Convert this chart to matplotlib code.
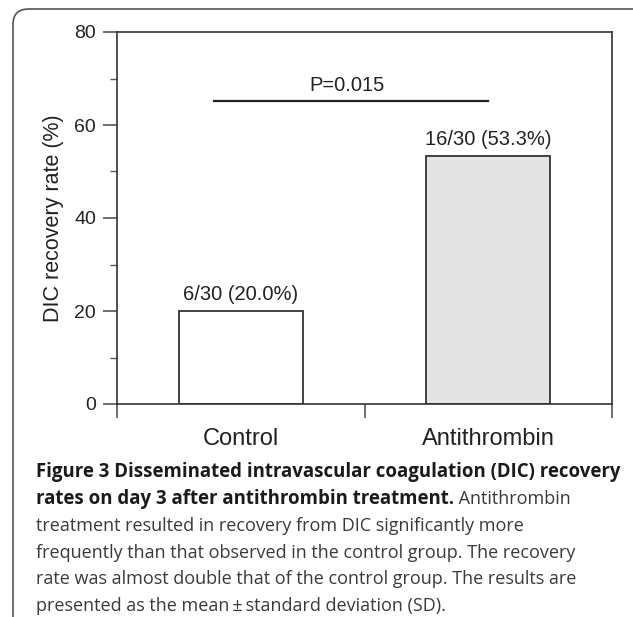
import matplotlib
matplotlib.use("Agg")
import matplotlib.pyplot as plt
from matplotlib.patches import FancyBboxPatch
from matplotlib.ticker import MultipleLocator, FixedLocator

# datos del grafico
grupos = ["Control", "Antithrombin"]
tasas = [20.0, 53.3]
etiquetas = ["6/30 (20.0%)", "16/30 (53.3%)"]
colores = ["white", "#e4e4e4"]
p_texto = "P=0.015"
p_altura = 65.2

caption_bold = ["Figure 3 Disseminated intravascular coagulation (DIC) recovery",
                "rates on day 3 after antithrombin treatment."]
caption_resto = " Antithrombin"
caption_lineas = ["treatment resulted in recovery from DIC significantly more",
                  "frequently than that observed in the control group. The recovery",
                  "rate was almost double that of the control group. The results are",
                  "presented as the mean\u2009\u00b1\u2009standard deviation (SD)."]

W, H = 633, 617
fig = plt.figure(figsize=(W / 100, H / 100), dpi=100)
plt.rcParams['font.family'] = ['Liberation Sans', 'DejaVu Sans']

# marco redondeado alrededor de la figura
marco = FancyBboxPatch((13 / W, -20 / H), 640 / W, (H - 9 + 20) / H,
                       boxstyle="round,pad=0,rounding_size=0.025",
                       transform=fig.transFigure, fill=False,
                       edgecolor="#555555", linewidth=1.2, clip_on=False)
fig.patches.append(marco)

ax = fig.add_axes([117 / W, 1 - 404 / H, 495 / W, 372 / H])
x = [0.5, 1.5]
ax.bar(x, tasas, width=0.5, color=colores, edgecolor="#333333", linewidth=1.3)

for xi, v, t in zip(x, tasas, etiquetas):
    ax.annotate(t, (xi, v), xytext=(0, 5), textcoords="offset points",
                ha="center", va="bottom", fontsize=14.5, color="#222222")

# linea de significancia
ax.plot([0.39, 1.5], [p_altura, p_altura], color="#222222", linewidth=1.6)
ax.text(0.93, p_altura + 1.3, p_texto, ha="center", va="bottom",
        fontsize=14.5, color="#222222")

ax.set_xlim(0, 2)
ax.set_ylim(0, 80)
ax.xaxis.set_major_locator(FixedLocator([0, 1, 2]))
ax.set_xticklabels([])
ax.xaxis.set_minor_locator(FixedLocator(x))
ax.set_xticklabels(grupos, minor=True, fontsize=17, color="#222222")
ax.tick_params(axis="x", which="minor", length=0, pad=17)
ax.tick_params(axis="x", which="major", length=10, width=1.2, color="#555555")

ax.yaxis.set_major_locator(MultipleLocator(20))
ax.yaxis.set_minor_locator(MultipleLocator(10))
ax.tick_params(axis="y", which="major", length=10, width=1.2, color="#555555",
               labelsize=14, labelcolor="#222222", pad=5)
ax.tick_params(axis="y", which="minor", length=5, width=1.0, color="#555555")

for s in ax.spines.values():
    s.set_color("#333333")
    s.set_linewidth(1.2)

ax.set_ylabel("DIC recovery rate (%)", fontsize=15.5, color="#222222")
ax.yaxis.set_label_coords(-0.107, 0.5)

# leyenda de la figura (texto)
fam = ["Open Sans", "DejaVu Sans"]
x0 = 36 / W
ys = [472, 499, 526, 553, 579, 606]
fig.text(x0, 1 - ys[0] / H, caption_bold[0], fontsize=13.4, weight="bold",
         family=fam, color="#1a1a1a", va="center")
t2 = fig.text(x0, 1 - ys[1] / H, caption_bold[1], fontsize=13.4, weight="bold",
              family=fam, color="#1a1a1a", va="center")
fig.canvas.draw()
bb = t2.get_window_extent()
fig.text(bb.x1 / W, 1 - ys[1] / H, caption_resto, fontsize=13.0,
         family=fam, color="#3a3a3a", va="center")
for yy, linea in zip(ys[2:], caption_lineas):
    fig.text(x0, 1 - yy / H, linea, fontsize=13.0, family=fam,
             color="#3a3a3a", va="center")

fig.savefig("out.png", dpi=100)
